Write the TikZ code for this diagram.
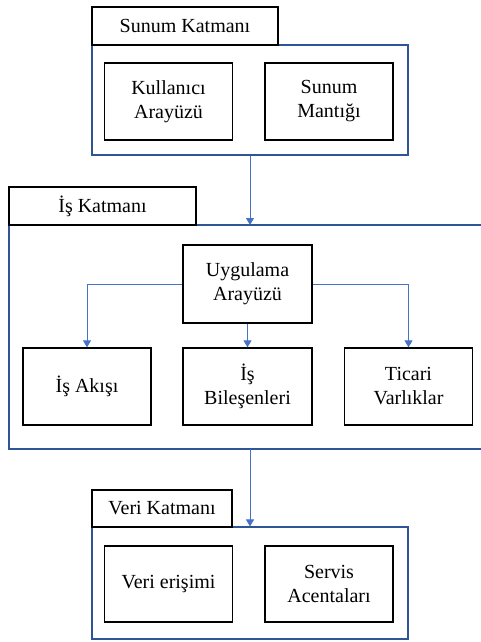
\documentclass[tikz,border=0pt]{standalone}
\usepackage{fontspec}
\setmainfont{Liberation Serif}
\usepackage{xcolor}
\usepackage{tikz}
\usetikzlibrary{arrows.meta}
\definecolor{layerblue}{RGB}{47,85,151}
\definecolor{linkblue}{RGB}{68,114,196}
\tikzset{
        box/.style={draw=black, line width=1.3pt, minimum width=128pt, minimum height=77pt,
            align=center, inner sep=2pt, font=\fontsize{20}{24}\selectfont},
        titlebox/.style={draw=black, line width=1.3pt, minimum height=38pt,
            inner sep=0pt, font=\fontsize{20}{24}\selectfont},
        layer/.style={draw=layerblue, line width=1.1pt, inner sep=0pt},
        link/.style={draw=linkblue, line width=0.9pt, -{Triangle[width=8pt,length=7pt]}}
    }

\begin{document}
\begin{tikzpicture}[x=1pt,y=-1pt]
            \useasboundingbox (0,0) rectangle (481,642);
            % Sunum katmani
            \node[layer, minimum width=316pt, minimum height=110pt] (sunumLayer) at (250,100) {};
            \node[titlebox, minimum width=186pt] (sunumTitle) at (185,26) {Sunum Katmanı};
            \node[box] (kullanici) at (168.5,101.5) {Kullanıcı\\Arayüzü};
            \node[box] (mantik) at (329,101.5) {Sunum\\Mantığı};
            % Is katmani
            \coordinate (isTop) at (250,225);
            \coordinate (isBottom) at (250,449);
            \draw[draw=layerblue, line width=1.1pt] (481,225) -- (9,225) -- (9,449) -- (481,449);
            \node[titlebox, minimum width=187pt] (isTitle) at (102.5,206) {İş Katmanı};
            \node[box, minimum width=129pt, minimum height=78pt] (uygulama) at (247.5,284) {Uygulama\\Arayüzü};
            \node[box] (akis) at (87,386.5) {İş Akışı};
            \node[box, minimum width=129pt] (bilesen) at (247.5,386.5) {İş\\Bileşenleri};
            \node[box] (ticari) at (408.5,386.5) {Ticari\\Varlıklar};
            % Veri katmani
            \node[layer, minimum width=316pt, minimum height=112pt] (veriLayer) at (250,583) {};
            \node[titlebox, minimum width=140pt, minimum height=37pt] (veriTitle) at (162,508.5) {Veri Katmanı};
            \node[box, minimum height=76pt] (erisim) at (168.5,584) {Veri erişimi};
            \node[box, minimum height=76pt] (servis) at (329,584) {Servis\\Acentaları};
            % baglantilar
            \draw[link] (sunumLayer.south) -- (isTop);
            \draw[link] (uygulama.west) -| (akis.north);
            \draw[link] (uygulama.south) -- (bilesen.north);
            \draw[link] (uygulama.east) -| (ticari.north);
            \draw[link] (isBottom) -- (veriLayer.north);
          \end{tikzpicture}
\end{document}
